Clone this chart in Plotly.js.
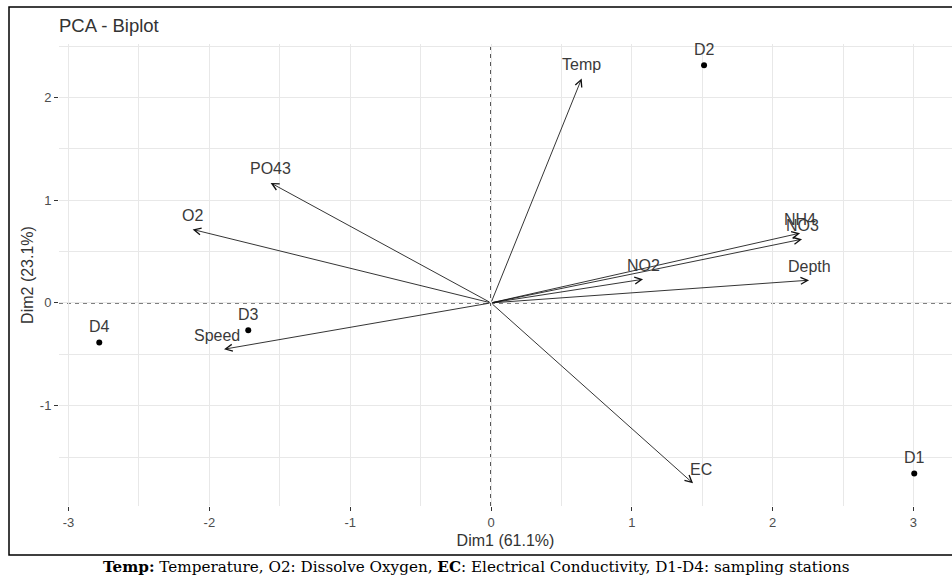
<!DOCTYPE html>
<html>
<head>
<meta charset="utf-8">
<script src="https://cdn.plot.ly/plotly-3.0.1.min.js"></script>
<style>
  html, body { margin: 0; padding: 0; background: #fff; }
  #chart { width: 952px; height: 580px; }
</style>
</head>
<body>
<div id="chart"></div>
<script>
// Variable loadings (arrow tips)
const varNames = ['Temp', 'PO43', 'O2', 'Speed', 'NH4', 'NO3', 'NO2', 'Depth', 'EC'];
const varDim1  = [0.644, -1.565, -2.119, -1.896, 2.195, 2.209, 1.080, 2.259, 1.435];
const varDim2  = [2.185, 1.168, 0.715, -0.451, 0.679, 0.620, 0.230, 0.221, -1.756];

// Individuals (sampling stations)
const indNames = ['D1', 'D2', 'D3', 'D4'];
const indDim1  = [3.006, 1.513, -1.724, -2.782];
const indDim2  = [-1.661, 2.314, -0.266, -0.386];

const xTickVals = [-3, -2, -1, 0, 1, 2, 3];
const xTickText = ['-3', '-2', '-1', '0', '1', '2', '3'];
const yTickVals = [-1, 0, 1, 2];
const yTickText = ['-1', '0', '1', '2'];

const titleText = 'PCA - Biplot';
const xTitle = 'Dim1 (61.1%)';
const yTitle = 'Dim2 (23.1%)';
const captionText = '<b>Temp:</b> Temperature, O2: Dissolve Oxygen, <b>EC</b>: Electrical Conductivity, D1-D4: sampling stations';

// label nudges (style only)
const labelNudge = { Speed: -7, EC: 8 };

const sans = 'Liberation Sans, Arial, sans-serif';
const annotations = [];

varNames.forEach((n, i) => {
  annotations.push({
    x: varDim1[i], y: varDim2[i], xref: 'x', yref: 'y',
    ax: 0, ay: 0, axref: 'x', ayref: 'y',
    showarrow: true, arrowhead: 5, arrowsize: 1.6, arrowwidth: 0.85,
    arrowcolor: '#111', standoff: 0, text: ''
  });
});
varNames.forEach((n, i) => {
  annotations.push({
    x: varDim1[i], y: varDim2[i], xref: 'x', yref: 'y',
    text: n, showarrow: false, yshift: 14, xshift: labelNudge[n] || 0,
    font: { family: sans, size: 16, color: '#3a3a3a' }
  });
});
indNames.forEach((n, i) => {
  annotations.push({
    x: indDim1[i], y: indDim2[i], xref: 'x', yref: 'y',
    text: n, showarrow: false, yshift: 16,
    font: { family: sans, size: 16, color: '#3a3a3a' }
  });
});
annotations.push({
  xref: 'paper', yref: 'paper', x: 0.467, y: -0.132,
  xanchor: 'center', yanchor: 'middle', showarrow: false,
  text: captionText,
  font: { family: 'DejaVu Serif, serif', size: 15.2, color: '#000' }
});

const traces = [{
  type: 'scatter', mode: 'markers',
  x: indDim1, y: indDim2, text: indNames, hoverinfo: 'text',
  marker: { color: '#000', size: 6 },
  showlegend: false
}];

const axisCommon = {
  showgrid: true, gridcolor: '#e8e8e8', gridwidth: 1,
  zeroline: false, showline: false,
  ticks: 'outside', ticklen: 4, tickwidth: 1, tickcolor: '#333',
  tickfont: { family: sans, size: 13, color: '#4d4d4d' },
  minor: { dtick: 0.5, showgrid: true, gridcolor: '#e8e8e8', gridwidth: 1, ticks: '' }
};

const layout = {
  width: 952, height: 580,
  margin: { l: 59, r: 0, t: 44, b: 74 },
  paper_bgcolor: '#fff', plot_bgcolor: '#fff',
  showlegend: false,
  title: {
    text: titleText, xref: 'container', yref: 'container',
    x: 59 / 952, xanchor: 'left', y: 1 - 26 / 580, yanchor: 'middle',
    font: { family: sans, size: 18.5, color: '#333' }
  },
  xaxis: Object.assign({}, axisCommon, {
    range: [-3.068, 3.274], tickvals: xTickVals, ticktext: xTickText,
    title: { text: xTitle, font: { family: sans, size: 16, color: '#333' }, standoff: 6 }
  }),
  yaxis: Object.assign({}, axisCommon, {
    range: [-1.977, 2.52], tickvals: yTickVals, ticktext: yTickText,
    title: { text: yTitle, font: { family: sans, size: 16, color: '#333' }, standoff: 2 }
  }),
  shapes: [
    { type: 'line', xref: 'x', yref: 'paper', x0: 0, x1: 0, y0: 0, y1: 1,
      line: { color: '#000', width: 1.3, dash: '4px,4px' }, layer: 'below' },
    { type: 'line', xref: 'paper', yref: 'y', x0: 0, x1: 1, y0: 0, y1: 0,
      line: { color: '#000', width: 1.3, dash: '4px,4px' }, layer: 'below' },
    { type: 'rect', xref: 'paper', yref: 'paper',
      x0: (9 - 59) / 893, x1: 1.02, y0: (506 - 555) / 462, y1: (506 - 7) / 462,
      line: { color: '#000', width: 1.5 }, fillcolor: 'rgba(0,0,0,0)' }
  ],
  annotations: annotations
};

Plotly.newPlot('chart', traces, layout, { displayModeBar: false, staticPlot: true });
</script>
</body>
</html>
